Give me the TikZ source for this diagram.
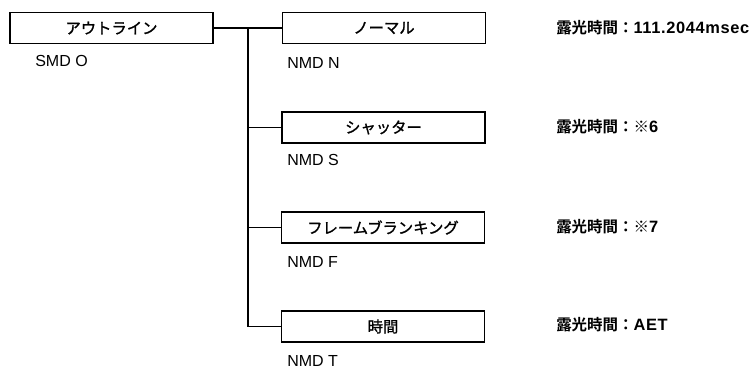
\documentclass[tikz,border=0pt]{standalone}
\usepackage{fontspec}
\setmainfont{Liberation Sans}
\newfontfamily\jp[FakeBold=1.3]{Noto Sans CJK JP}
\newfontfamily\jpb{Noto Sans CJK JP Bold}
\newfontfamily\latb[LetterSpace=4]{Liberation Sans Bold}
\begin{document}
\begin{tikzpicture}[x=0.75pt,y=-0.75pt,
  box/.style={draw,line width=1pt,rectangle,minimum width=203*0.75pt,minimum height=31*0.75pt,inner sep=0pt,font=\jp\fontsize{11.5pt}{13pt}\selectfont},
  code/.style={anchor=west,inner sep=0pt,font=\fontsize{12pt}{14pt}\selectfont},
  expo/.style={anchor=west,inner sep=0pt,font=\latb\fontsize{12.3pt}{14pt}\selectfont},
  conn/.style={line width=1pt}]
\useasboundingbox (0,0) rectangle (755,369);
\node[box] (O) at (111.5,28) {アウトライン};
\node[box] (N) at (384,28) {ノーマル};
\node[box] (S) at (383.5,127.5) {シャッター};
\node[box] (F) at (383,227.5) {フレームブランキング};
\node[box] (T) at (383,326.5) {時間};
\node[code] (lo) at (35,61) {SMD O};
\node[code] (ln) at (287,63) {NMD N};
\node[code] (ls) at (287,160) {NMD S};
\node[code] (lf) at (287,262) {NMD F};
\node[code] (lt) at (287,361) {NMD T};
\newcommand\rou[1]{{\jpb\fontsize{11.6pt}{14pt}\selectfont 露光時間：#1}}
\node[expo] (en) at (556,28) {\rou{}111.2044msec};
\node[expo] (es) at (556,127) {\rou{※}6};
\node[expo] (ef) at (556,227) {\rou{※}7};
\node[expo] (et) at (556,325) {\rou{}AET};
\coordinate (j) at (248,28);
\draw[conn] (O.east) -- (N.west);
\draw[conn] (j) |- (T.west);
\draw[conn] (j |- S.west) -- (S.west);
\draw[conn] (j |- F.west) -- (F.west);
\end{tikzpicture}
\end{document}
